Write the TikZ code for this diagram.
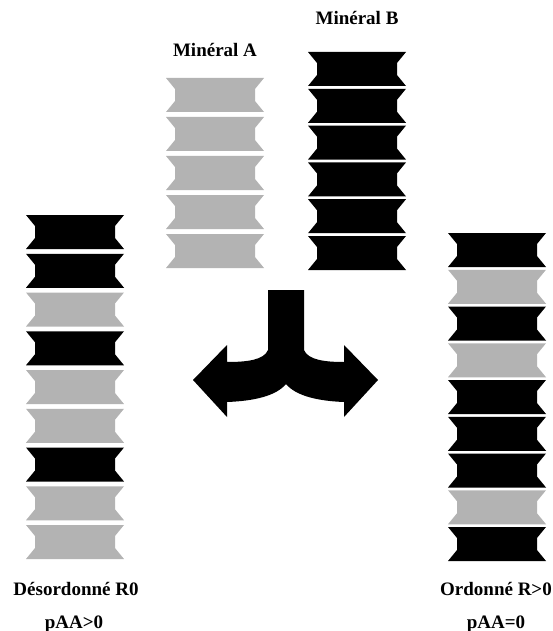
\documentclass[tikz,border=0pt]{standalone}
\usepackage{fontspec}
\setmainfont{Liberation Serif}
\usetikzlibrary{calc}
\definecolor{mineralA}{RGB}{179,179,179}
\definecolor{mineralB}{RGB}{0,0,0}
\tikzset{
  pics/couche/.style={code={
    \fill[#1] (0,0) -- (98,0) -- (89,11) -- (89,23) -- (98,34) -- (0,34) -- (9,23) -- (9,11) -- cycle;
  }},
  titre/.style={anchor=base, font=\fontsize{19}{22}\selectfont\bfseries, inner sep=0pt}
}
\begin{document}
\begin{tikzpicture}[x=1pt, y=-1pt]
\useasboundingbox (0,0) rectangle (552,631);
% mineraux purs
\foreach \i in {0,...,4} \pic at (166,{78+39*\i}) {couche=mineralA};
\foreach \i in {0,...,5} \pic at (308,{52+36.8*\i}) {couche=mineralB};
% interstratifies
\foreach \c [count=\i from 0] in {B,B,A,B,A,A,B,A,A} \pic at (26,{215+38.75*\i}) {couche=mineral\c};
\foreach \c [count=\i from 0] in {B,A,B,A,B,B,B,A,B} \pic at (448,{233+36.75*\i}) {couche=mineral\c};
% fleche
\fill[black] (268,290) -- (304,290) -- (304,350)
  .. controls (308,360) and (325,362) .. (344,362) -- (344,345) -- (378,380) -- (344,417) -- (344,402)
  .. controls (318,401) and (296,396) .. (286,384)
  .. controls (276,396) and (254,401) .. (227,402) -- (227,417) -- (193,380) -- (227,345) -- (227,362)
  .. controls (247,362) and (264,360) .. (268,350) -- cycle;
% textes
\node[titre] (minA) at (215,57) {Minéral A};
\node[titre] (minB) at (357,25) {Minéral B};
\node[titre] (desord) at (76,595) {Désordonné R0};
\node[titre] (desordp) at (74,628) {pAA>0};
\node[titre] (ord) at (496,595) {Ordonné R>0};
\node[titre] (ordp) at (496,628) {pAA=0};
\end{tikzpicture}
\end{document}
